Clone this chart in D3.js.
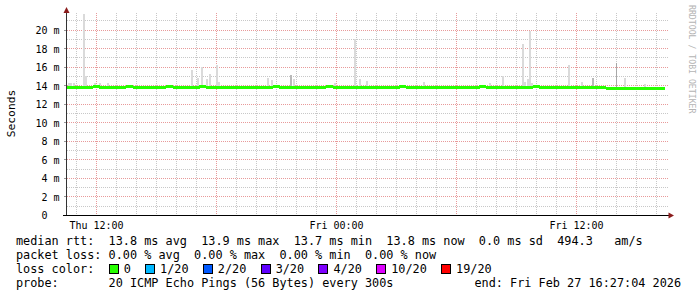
<!DOCTYPE html>
<html>
<head>
<meta charset="utf-8">
<script src="https://cdn.jsdelivr.net/npm/d3@7"></script>
<style>
  html, body { margin: 0; padding: 0; background: #fff; }
  svg { display: block; }
  text { font-family: "DejaVu Sans Mono", monospace; white-space: pre; }
</style>
</head>
<body>
<svg id="chart" width="697" height="297"></svg>
<script>
// ---------------------------------------------------------------------------
// Data (last 30 hours)
// ---------------------------------------------------------------------------
const graphStart = "2026-02-26 10:30";
const graphEnd   = "2026-02-27 16:30";
const lastUpdate = "2026-02-27 16:27";

// median rtt in ms, one value per 20 minutes from graphStart
const medianStepMin = 20;
const medianMs = [
  13.79, 13.81, 13.77, 13.80, 13.83, 13.78, 13.80, 13.76, 13.79,
  13.82, 13.78, 13.80, 13.77, 13.81, 13.79, 13.83, 13.78, 13.80,
  13.76, 13.80, 13.82, 13.79, 13.77, 13.81, 13.78, 13.80, 13.79,
  13.81, 13.77, 13.80, 13.78, 13.82, 13.79, 13.76, 13.80, 13.81,
  13.78, 13.80, 13.79, 13.83, 13.77, 13.80, 13.78, 13.81, 13.79,
  13.80, 13.77, 13.81, 13.79, 13.78, 13.82, 13.80, 13.76, 13.79,
  13.81, 13.78, 13.80, 13.79, 13.77, 13.81, 13.80, 13.78, 13.82,
  13.79, 13.80, 13.77, 13.81, 13.78, 13.80, 13.79, 13.82, 13.78,
  13.80, 13.77, 13.79, 13.81, 13.78, 13.80, 13.76, 13.79, 13.72,
  13.70, 13.68, 13.66, 13.69, 13.67, 13.68, 13.65, 13.68, 13.67,
];

// smoke: samples where the slowest pings stood out above the median
const smokeTimes = [
  "2026-02-26 10:36", "2026-02-26 10:42", "2026-02-26 10:51", "2026-02-26 11:21",
  "2026-02-26 11:27", "2026-02-26 11:54", "2026-02-26 12:09", "2026-02-26 12:33",
  "2026-02-26 16:45", "2026-02-26 17:03", "2026-02-26 17:15", "2026-02-26 17:30",
  "2026-02-26 17:39", "2026-02-26 18:00", "2026-02-26 18:06", "2026-02-26 20:33",
  "2026-02-26 20:45", "2026-02-26 21:42", "2026-02-26 21:51", "2026-02-26 23:54",
  "2026-02-27 00:54", "2026-02-27 01:09", "2026-02-27 01:30", "2026-02-27 04:21",
  "2026-02-27 07:39", "2026-02-27 08:18", "2026-02-27 09:18", "2026-02-27 09:24",
  "2026-02-27 09:33", "2026-02-27 09:39", "2026-02-27 09:45", "2026-02-27 11:36",
  "2026-02-27 12:15", "2026-02-27 12:48", "2026-02-27 14:00", "2026-02-27 14:24",
  "2026-02-27 15:24",
];
const smokeMaxMs = [
  14.2, 14.2, 14.2, 21.7,
  15.0, 14.2, 14.2, 14.2,
  15.7, 14.8, 16.0, 14.7,
  15.2, 16.2, 14.3, 14.8,
  14.6, 15.1, 14.7, 14.2,
  19.0, 14.7, 14.5, 14.3,
  14.2, 15.0, 18.5, 14.3,
  14.7, 19.9, 14.2, 16.2,
  14.3, 14.8, 16.4, 14.8,
  14.1,
];
// how many of the 20 pings landed up there (denser smoke = darker grey)
const smokeHits = [
  1, 1, 1, 1,
  1, 1, 1, 1,
  1, 1, 1, 1,
  1, 1, 1, 1,
  1, 3, 1, 1,
  1, 1, 1, 1,
  1, 1, 1, 1,
  1, 1, 1, 1,
  1, 3, 4, 1,
  1,
];

const yTicks = [0, 2, 4, 6, 8, 10, 12, 14, 16, 18, 20];

const lossLabels = ["0", "1/20", "2/20", "3/20", "4/20", "10/20", "19/20"];
const lossColors = ["#26ff00", "#00b8ff", "#0059ff", "#5e00ff", "#7e00ff", "#dd00ff", "#ff0000"];

const statLines = [
  "median rtt:  13.8 ms avg  13.9 ms max  13.7 ms min  13.8 ms now  0.0 ms sd  494.3   am/s",
  "packet loss: 0.00 % avg  0.00 % max  0.00 % min  0.00 % now",
  "loss color:",
  "probe:       20 ICMP Echo Pings (56 Bytes) every 300s",
];
const endLabel = "end: Fri Feb 27 16:27:04 2026";

// ---------------------------------------------------------------------------
// Scales
// ---------------------------------------------------------------------------
const parse = d3.timeParse("%Y-%m-%d %H:%M");
const t0 = parse(graphStart), t1 = parse(graphEnd), tLast = parse(lastUpdate);

const x = d3.scaleTime().domain([t0, t1]).range([66, 666]);
const y = d3.scaleLinear().domain([0, 21.8]).range([215, 13]);
const px = (v) => Math.round(v) + 0.5;

const gridGray = "#c8c8c8";
const gridRed  = "#e89a9a";
const arrowRed = "#8b1c1c";

const svg = d3.select("#chart");

// ---------------------------------------------------------------------------
// Grid
// ---------------------------------------------------------------------------
const grid = svg.append("g")
  .attr("stroke-dasharray", "1,1").attr("shape-rendering", "crispEdges");

grid.selectAll("line.h").data(y.ticks(22).filter((v) => v > 0 && v <= 21.8)).join("line")
  .attr("class", "h")
  .attr("x1", 67).attr("x2", 669)
  .attr("y1", (d) => px(y(d))).attr("y2", (d) => px(y(d)))
  .attr("stroke", (d) => d % 2 === 0 ? gridRed : gridGray);

grid.selectAll("line.v").data(x.ticks(d3.timeHour.every(1)).filter((d) => d > t0)).join("line")
  .attr("class", "v")
  .attr("x1", (d) => px(x(d))).attr("x2", (d) => px(x(d)))
  .attr("y1", 13).attr("y2", 215)
  .attr("stroke", (d) => d.getHours() % 6 === 0 ? gridRed : gridGray);

// ---------------------------------------------------------------------------
// Smoke + median
// ---------------------------------------------------------------------------
const smokeShade = d3.scaleLinear().domain([1, 4]).range(["#dadada", "#a8a8a8"]);
const smoke = smokeTimes.map((s, i) => ({ t: parse(s), max: smokeMaxMs[i], hits: smokeHits[i] }));

svg.append("g").attr("shape-rendering", "crispEdges")
  .selectAll("rect").data(smoke).join("rect")
  .attr("x", (d) => Math.round(x(d.t)))
  .attr("width", (d) => d.hits > 3 ? 1 : 2)
  .attr("y", (d) => Math.round(y(d.max)))
  .attr("height", (d) => Math.round(y(13.8)) - Math.round(y(d.max)))
  .attr("fill", (d) => smokeShade(d.hits));

const median = medianMs.map((v, i) => {
  const a = d3.timeMinute.offset(t0, i * medianStepMin);
  const b = d3.min([d3.timeMinute.offset(a, medianStepMin), tLast]);
  return { a, b, v };
});

svg.append("g").attr("shape-rendering", "crispEdges")
  .selectAll("rect").data(median).join("rect")
  .attr("x", (d) => x(d.a))
  .attr("width", (d) => x(d.b) - x(d.a) + 0.3)
  .attr("y", (d) => y(d.v) - 1.5)
  .attr("height", 3)
  .attr("fill", lossColors[0]);

// ---------------------------------------------------------------------------
// Axes
// ---------------------------------------------------------------------------
const yAxis = svg.append("g").attr("transform", "translate(66.5,0)")
  .call(d3.axisLeft(y).tickValues(yTicks).tickSize(0).tickPadding(7)
    .tickFormat((d) => d === 0 ? "0  " : `${d} m`));
yAxis.select(".domain").remove();
yAxis.selectAll("text")
  .attr("font-family", "DejaVu Sans Mono, monospace")
  .attr("font-size", "10px").attr("fill", "#000").attr("dy", "0.38em");

const xAxis = svg.append("g").attr("transform", "translate(0,215.5)")
  .call(d3.axisBottom(x).ticks(d3.timeHour.every(12)).tickSize(0).tickPadding(6)
    .tickFormat(d3.timeFormat("%a %H:%M")));
xAxis.select(".domain").remove();
xAxis.selectAll("text")
  .attr("font-family", "DejaVu Sans Mono, monospace")
  .attr("font-size", "10px").attr("fill", "#000");

const axes = svg.append("g").attr("shape-rendering", "crispEdges");
axes.append("line").attr("x1", 66.5).attr("x2", 66.5).attr("y1", 216).attr("y2", 12)
  .attr("stroke", "#333");
axes.append("line").attr("x1", 63).attr("x2", 670).attr("y1", 215.5).attr("y2", 215.5)
  .attr("stroke", "#000");
axes.selectAll("line.tick").data(yTicks.filter((v) => v > 0)).join("line")
  .attr("class", "tick")
  .attr("x1", 64).attr("x2", 66)
  .attr("y1", (d) => px(y(d))).attr("y2", (d) => px(y(d)))
  .attr("stroke", "#999");

svg.append("path").attr("d", "M66.5,7L63.5,13L69.5,13Z").attr("fill", arrowRed);
svg.append("path").attr("d", "M674,215.5L668.5,212.5L668.5,218.5Z").attr("fill", arrowRed);

// ---------------------------------------------------------------------------
// Labels
// ---------------------------------------------------------------------------
svg.append("text")
  .attr("transform", "translate(15,113.5) rotate(-90)")
  .attr("text-anchor", "middle").attr("font-size", "11.3px").attr("fill", "#000")
  .text("Seconds");

svg.append("text")
  .attr("transform", "translate(689,5) rotate(90)")
  .attr("font-size", "8.2px").attr("fill", "#b4b4b4")
  .text("RRDTOOL / TOBI OETIKER");

// ---------------------------------------------------------------------------
// Legend
// ---------------------------------------------------------------------------
const cw = 7.13;
const baselines = [244.5, 258.5, 272.5, 286.5];
const legend = svg.append("g").attr("font-size", "11.84px").attr("fill", "#000");

legend.selectAll("text.stat").data(statLines).join("text")
  .attr("class", "stat")
  .attr("x", 16).attr("y", (d, i) => baselines[i])
  .text((d) => d);

legend.append("text")
  .attr("x", 681).attr("y", baselines[3]).attr("text-anchor", "end")
  .text(endLabel);

let cursor = 16 + 13 * cw;
const lossItems = lossLabels.map((label, i) => {
  const item = { label, color: lossColors[i], box: cursor, tx: cursor + 15 };
  cursor = item.tx + (label.length + 2) * cw;
  return item;
});

legend.selectAll("rect.loss").data(lossItems).join("rect")
  .attr("class", "loss")
  .attr("x", (d) => Math.round(d.box) + 0.5).attr("y", 264.5)
  .attr("width", 9).attr("height", 9)
  .attr("fill", (d) => d.color).attr("stroke", "#000");

legend.selectAll("text.loss").data(lossItems).join("text")
  .attr("class", "loss")
  .attr("x", (d) => d.tx).attr("y", baselines[2])
  .text((d) => d.label);
</script>
</body>
</html>
